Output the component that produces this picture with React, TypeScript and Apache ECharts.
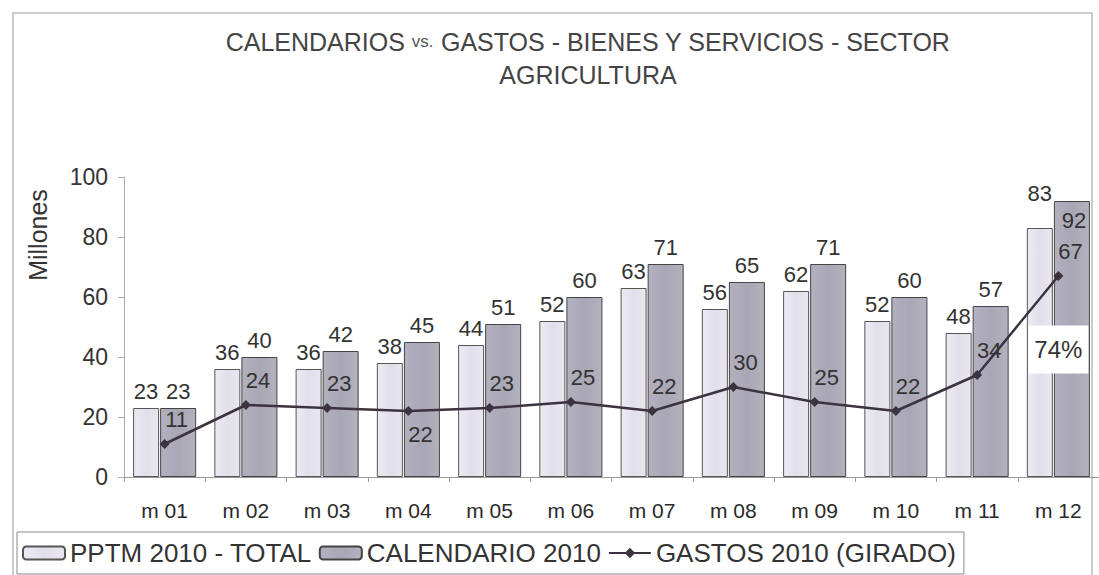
import React, { useEffect, useRef } from "react";
import * as echarts from "echarts";

const categories = ["m 01", "m 02", "m 03", "m 04", "m 05", "m 06", "m 07", "m 08", "m 09", "m 10", "m 11", "m 12"];
const pptm = [23, 36, 36, 38, 44, 52, 63, 56, 62, 52, 48, 83];
const calendario = [23, 40, 42, 45, 51, 60, 71, 65, 71, 60, 57, 92];
const gastos = [11, 24, 23, 22, 23, 25, 22, 30, 25, 22, 34, 67];
const yTicks = [0, 20, 40, 60, 80, 100];

const FONT = "Liberation Sans, Arial, sans-serif";

export default function App() {
  const ref = useRef<HTMLDivElement>(null);
  useEffect(() => {
    if (!ref.current) return;
    const chart = echarts.init(ref.current, null, { renderer: "svg" });
    const lineData = gastos.map((v, i) => ({
      value: v,
      label: i === 3 ? { position: "bottom", offset: [12, 2] } : undefined,
    }));
    const pptmData = pptm.map((v, i) => ({
      value: v,
      label: i === 11 ? { offset: [0, -18] } : undefined,
    }));
    const calData = calendario.map((v, i) => ({
      value: v,
      label: i === 11 ? { position: "insideTop", offset: [2, 2] } : undefined,
    }));
    const labelStyle = { fontFamily: FONT, fontSize: 22, color: "#333" };
    chart.setOption({
      animation: false,
      backgroundColor: "#ffffff",
      textStyle: { fontFamily: FONT },
      title: {
        text: "CALENDARIOS {s|vs.} GASTOS - BIENES Y SERVICIOS - SECTOR\nAGRICULTURA",
        left: 583,
        textAlign: "center",
        top: 20,
        textStyle: {
          fontFamily: FONT,
          fontSize: 25,
          fontWeight: "normal",
          color: "#444",
          lineHeight: 33,
          rich: { s: { fontSize: 17, color: "#555", fontFamily: FONT } },
        },
      },
      grid: { left: 124, top: 177, width: 978, height: 300 },
      xAxis: {
        type: "category",
        data: categories,
        axisLine: { lineStyle: { color: "#999", width: 1 } },
        axisTick: { show: true, length: 5, lineStyle: { color: "#999" } },
        axisLabel: { fontFamily: FONT, fontSize: 21, color: "#2a2a2a", margin: 23 },
      },
      yAxis: {
        type: "value",
        min: 0,
        max: 100,
        interval: 20,
        splitLine: { show: false },
        axisLine: { show: true, lineStyle: { color: "#aaa" } },
        axisTick: { show: true, inside: false, length: 6, lineStyle: { color: "#aaa" } },
        axisLabel: {
          fontFamily: FONT,
          fontSize: 23,
          color: "#333",
          margin: 16,
          formatter: (v: number) => (yTicks.includes(v) ? String(v) : ""),
        },
      },
      legend: {
        left: 17,
        top: 532,
        orient: "horizontal",
        borderColor: "#888",
        borderWidth: 1,
        padding: [8, 8, 8, 5],
        itemWidth: 42,
        itemHeight: 13,
        itemGap: 7,
        textStyle: { fontFamily: FONT, fontSize: 26, color: "#333" },
        data: ["PPTM 2010 - TOTAL", "CALENDARIO 2010", "GASTOS 2010 (GIRADO)"],
      },
      graphic: [
        {
          type: "rect",
          shape: { x: 13, y: 13, width: 1079, height: 620 },
          style: { fill: "none", stroke: "#bbb", lineWidth: 1.5 },
          silent: true,
          z: -10,
        },
        {
          type: "text",
          x: 38,
          y: 235,
          rotation: Math.PI / 2,
          style: {
            text: "Millones",
            font: `25px ${FONT}`,
            fill: "#333",
            align: "center",
            verticalAlign: "middle",
          },
        },
      ],
      series: [
        {
          name: "PPTM 2010 - TOTAL",
          type: "bar",
          barWidth: 26,
          barGap: "4%",
          data: pptmData,
          itemStyle: {
            color: new echarts.graphic.LinearGradient(0, 0, 1, 0, [
              { offset: 0, color: "#ecebf3" },
              { offset: 0.5, color: "#e2dfec" },
              { offset: 1, color: "#e9e6ef" },
            ]),
            borderColor: "#555",
            borderWidth: 1,
          },
          label: { show: true, position: "top", distance: 6, ...labelStyle },
        },
        {
          name: "CALENDARIO 2010",
          type: "bar",
          barWidth: 36,
          barGap: "4%",
          data: calData,
          itemStyle: {
            color: new echarts.graphic.LinearGradient(0, 0, 1, 0, [
              { offset: 0, color: "#b3b1bf" },
              { offset: 0.5, color: "#a9a6b5" },
              { offset: 1, color: "#b4b2bd" },
            ]),
            borderColor: "#444",
            borderWidth: 1,
          },
          label: { show: true, position: "top", distance: 6, ...labelStyle },
        },
        {
          name: "GASTOS 2010 (GIRADO)",
          type: "line",
          data: lineData,
          symbol: "diamond",
          symbolSize: 10,
          lineStyle: { color: "#3b3340", width: 2.5 },
          itemStyle: { color: "#3b3340" },
          label: { show: true, position: "top", offset: [12, -4], ...labelStyle },
          markPoint: {
            symbol: "rect",
            symbolSize: [60, 48],
            itemStyle: { color: "#ffffff" },
            label: { show: true, formatter: "74%", fontFamily: FONT, fontSize: 24, color: "#333" },
            data: [{ coord: ["m 12", 42.5] }],
          },
          z: 5,
        },
      ],
    });
    return () => chart.dispose();
  }, []);
  return (
    <div
      ref={ref}
      style={{ position: "fixed", left: 0, top: 0, width: 1099, height: 575 }}
    />
  );
}
